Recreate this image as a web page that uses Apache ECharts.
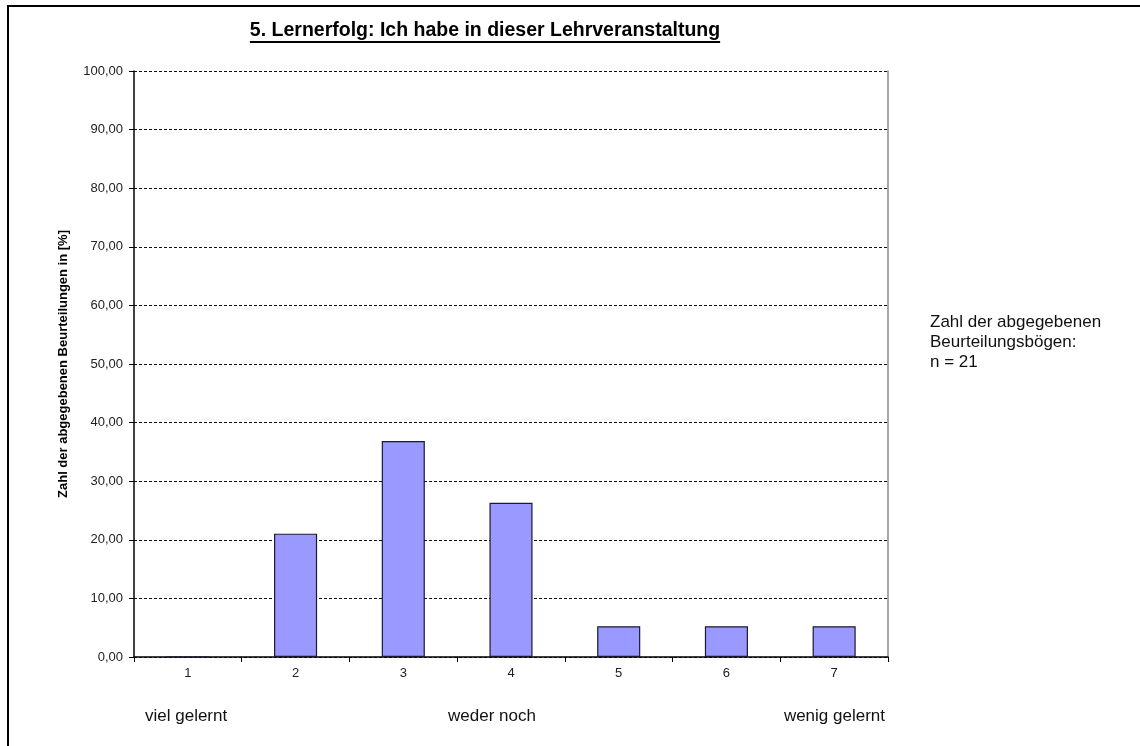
<!DOCTYPE html>
<html>
<head>
<meta charset="utf-8">
<script src="https://cdn.jsdelivr.net/npm/echarts@6/dist/echarts.min.js"></script>
<style>
html,body{margin:0;padding:0;background:#fff;}
#chart{width:1140px;height:746px;}
</style>
</head>
<body>
<div id="chart"></div>
<script>
const categories = ['1', '2', '3', '4', '5', '6', '7'];
const percentValues = [0, 21.05, 36.84, 26.32, 5.26, 5.26, 5.26];
const titleText = '5. Lernerfolg: Ich habe in dieser Lehrveranstaltung';
const yAxisName = 'Zahl der abgegebenen Beurteilungen in [%]';
const scaleLabels = ['viel gelernt', 'weder noch', 'wenig gelernt'];
const noteLines = ['Zahl der abgegebenen', 'Beurteilungsbögen:', 'n = 21'];

const FONT = 'Arial, "Liberation Sans", sans-serif';
const TITLE_FONT = 'bold 19.5px ' + FONT;

// measure title width for underline
const cv = document.createElement('canvas').getContext('2d');
cv.font = TITLE_FONT;
const titleW = cv.measureText(titleText).width;
const titleCX = 485;

const chart = echarts.init(document.getElementById('chart'), null, {renderer: 'canvas'});
chart.setOption({
  backgroundColor: '#ffffff',
  animation: false,
  grid: {left: 134, right: 252, top: 71, bottom: 89, containLabel: false},
  xAxis: {
    type: 'category',
    data: categories,
    axisLine: {show: true, lineStyle: {color: '#000', width: 1.5}},
    axisTick: {show: true, length: 5, lineStyle: {color: '#000'}},
    axisLabel: {fontFamily: FONT, fontSize: 13, color: '#222', margin: 10},
    splitLine: {show: false}
  },
  yAxis: [{
    type: 'value',
    min: 0, max: 100, interval: 10,
    name: yAxisName,
    nameLocation: 'middle',
    nameRotate: 90,
    nameGap: 64,
    nameTextStyle: {fontFamily: FONT, fontSize: 13, fontWeight: 'bold', color: '#000'},
    axisLine: {show: true, lineStyle: {color: '#000', width: 1.5}},
    axisTick: {show: true, length: 5, inside: false, lineStyle: {color: '#000'}},
    axisLabel: {
      fontFamily: FONT, fontSize: 13, color: '#222', margin: 11,
      formatter: v => v.toFixed(2).replace('.', ',')
    },
    splitLine: {show: true, lineStyle: {color: '#111', type: [3, 2], width: 1}}
  }, {
    type: 'value',
    position: 'right',
    min: 0, max: 100, interval: 10,
    axisLine: {show: true, lineStyle: {color: '#888', width: 1.5}},
    axisTick: {show: false},
    axisLabel: {show: false},
    splitLine: {show: false}
  }],
  series: [{
    type: 'bar',
    data: percentValues,
    yAxisIndex: 0,
    barWidth: '40%',
    itemStyle: {color: '#9999ff', borderColor: '#1a1a33', borderWidth: 1.2}
  }],
  graphic: [
    {
      type: 'rect',
      shape: {x: 8, y: 6, width: 1200, height: 800},
      style: {fill: null, stroke: '#000', lineWidth: 2},
      silent: true
    },
    {
      type: 'text',
      x: titleCX, y: 31,
      style: {text: titleText, font: TITLE_FONT, fill: '#000', align: 'center', verticalAlign: 'middle'}
    },
    {
      type: 'line',
      shape: {x1: titleCX - titleW / 2, y1: 42, x2: titleCX + titleW / 2, y2: 42},
      style: {stroke: '#000', lineWidth: 2}
    },
    {
      type: 'text',
      x: 145, y: 716,
      style: {text: scaleLabels[0], font: '17px ' + FONT, fill: '#111', align: 'left', verticalAlign: 'middle'}
    },
    {
      type: 'text',
      x: 492, y: 716,
      style: {text: scaleLabels[1], font: '17px ' + FONT, fill: '#111', align: 'center', verticalAlign: 'middle'}
    },
    {
      type: 'text',
      x: 885, y: 716,
      style: {text: scaleLabels[2], font: '17px ' + FONT, fill: '#111', align: 'right', verticalAlign: 'middle'}
    },
    {
      type: 'text',
      x: 930, y: 342,
      style: {text: noteLines.join('\n'), font: '17px ' + FONT, lineHeight: 20, fill: '#111', align: 'left', verticalAlign: 'middle'}
    }
  ]
});
</script>
</body>
</html>
